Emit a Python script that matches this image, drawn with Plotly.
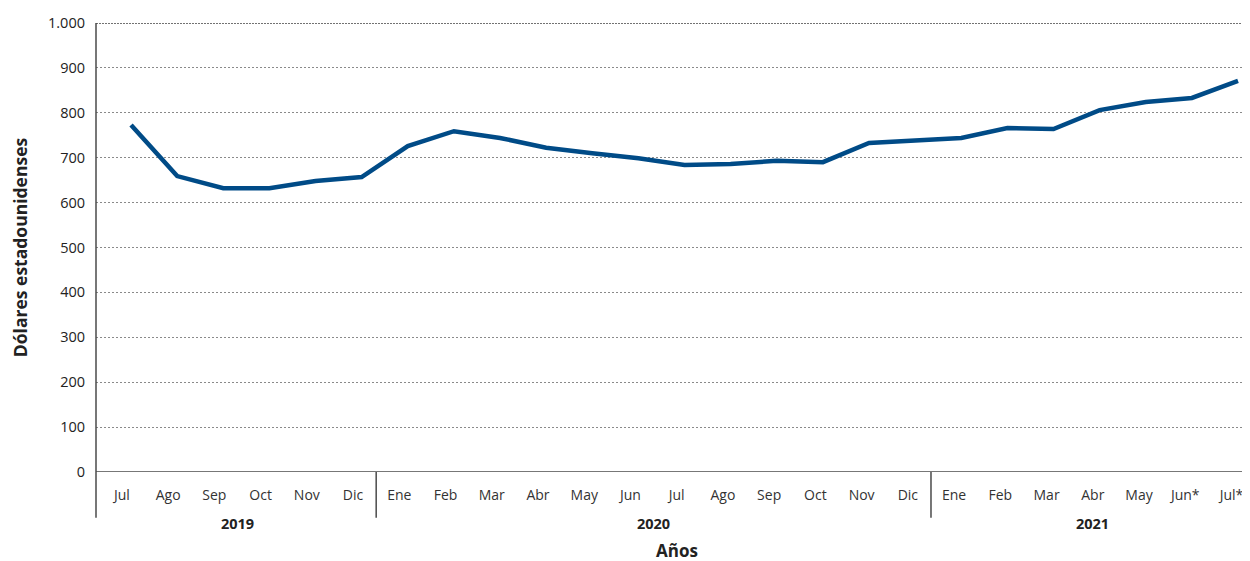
import plotly.graph_objects as go

months = ["Jul", "Ago", "Sep", "Oct", "Nov", "Dic",
          "Ene", "Feb", "Mar", "Abr", "May", "Jun", "Jul", "Ago", "Sep", "Oct", "Nov", "Dic",
          "Ene", "Feb", "Mar", "Abr", "May", "Jun*", "Jul*"]
values = [773, 659, 632, 632, 648, 657,
          726, 759, 744, 722, 710, 699, 684, 686, 693, 690, 733, 739,
          744, 766, 764, 806, 824, 833, 871]
years = ["2019", "2020", "2021"]
year_counts = [6, 12, 7]

idx = list(range(len(values)))
FONT = "Open Sans"
AXC = "#4a4a4a"

fig = go.Figure()
fig.add_trace(go.Scatter(x=idx, y=values, mode="lines",
                         line=dict(color="#004b87", width=4.5),
                         hoverinfo="skip", showlegend=False))
# invisible trace on label axis
fig.add_trace(go.Scatter(x=idx, y=[None] * len(idx), xaxis="x2", mode="lines",
                         showlegend=False, hoverinfo="skip"))

# page has an 8px body margin, so the figure is sized to fit the 1250x561 window
fig.update_layout(
    width=1242, height=553,
    margin=dict(l=88, r=0, t=15, b=89, autoexpand=False),
    paper_bgcolor="white", plot_bgcolor="white",
    separators=",.",
    font=dict(family=FONT, size=14, color="#222"),
    xaxis=dict(range=[-0.76, 24.26], showticklabels=False, showgrid=False,
               zeroline=False, showline=False, ticks="", automargin=False),
    xaxis2=dict(range=[-0.56, 24.4], overlaying="x", side="bottom",
                tickvals=idx, ticktext=months, showgrid=False, zeroline=False,
                showline=False, ticks="", automargin=False, ticklabeloverflow="allow",
                tickfont=dict(family=FONT, size=14, color="#333"),
                ticklabelstandoff=13),
    yaxis=dict(range=[0, 1000], tickvals=list(range(0, 1001, 100)),
               tickformat=",d", showgrid=True, gridcolor="#8a8a8a", griddash="2px,2px",
               gridwidth=1, zeroline=False, showline=False, ticks="", automargin=False,
               ticklabelstandoff=10, tickfont=dict(family=FONT, size=14.5, color="#222"),
               title=dict(text="<b>Dólares estadounidenses</b>", standoff=18,
                          font=dict(family=FONT, size=17.5, color="#222"))),
)

shapes = []
# top dotted dark line
shapes.append(dict(type="line", xref="paper", yref="y", x0=0, x1=1, y0=1000, y1=1000,
                   line=dict(color="#444", width=1.5, dash="2px,1px")))
# x axis line at 0
shapes.append(dict(type="line", xref="paper", yref="y", x0=0, x1=1, y0=0, y1=0,
                   line=dict(color=AXC, width=1.5)))
# y axis line extended below
shapes.append(dict(type="line", xref="paper", yref="paper", x0=0, x1=0, y0=-0.102, y1=1,
                   line=dict(color=AXC, width=1.5)))
# year dividers and labels
start = 0
for yr, cnt in zip(years, year_counts):
    end = start + cnt
    if end < len(values):
        shapes.append(dict(type="line", xref="x2", yref="paper", x0=end - 0.5, x1=end - 0.5,
                           y0=-0.102, y1=0, line=dict(color=AXC, width=1.5)))
    fig.add_annotation(x=(start + end - 1) / 2, xref="x2", y=-0.088, yref="paper",
                       text=f"<b>{yr}</b>", showarrow=False, yanchor="top",
                       font=dict(family=FONT, size=14.5, color="#222"))
    start = end

fig.add_annotation(x=(len(values) - 1) / 2, xref="x2", y=-0.145, yref="paper",
                   text="<b>Años</b>", showarrow=False, yanchor="top",
                   font=dict(family=FONT, size=17, color="#222"))
fig.update_layout(shapes=shapes)

fig.write_html("out.html")
